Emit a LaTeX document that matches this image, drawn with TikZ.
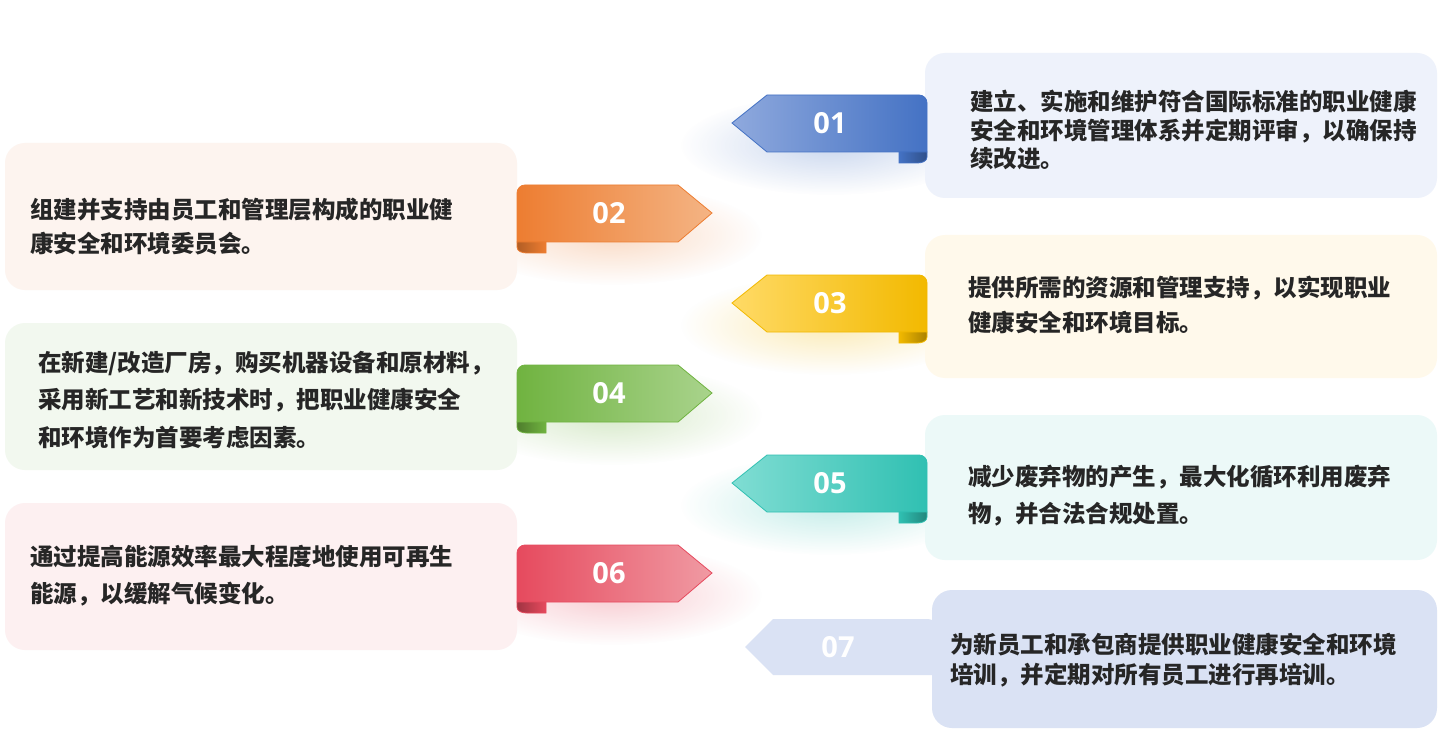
\documentclass[tikz,border=0pt]{standalone}
\usepackage{fontspec}
\usepackage{xcolor}
\usepackage{tikz}
\usetikzlibrary{positioning, fadings}
\newfontfamily\cjk{Noto Sans CJK SC}
\newfontfamily\numfont{Open Sans}
\definecolor{textgray}{RGB}{38,38,38}
\definecolor{blueD}{RGB}{68,114,196}
\definecolor{blueL}{RGB}{143,169,221}
\definecolor{blueBox}{RGB}{238,242,251}
\definecolor{orangeD}{RGB}{237,125,49}
\definecolor{orangeL}{RGB}{244,180,132}
\definecolor{orangeBox}{RGB}{253,244,239}
\definecolor{yellowD}{RGB}{242,185,0}
\definecolor{yellowL}{RGB}{255,218,102}
\definecolor{yellowBox}{RGB}{255,249,235}
\definecolor{greenD}{RGB}{112,179,64}
\definecolor{greenL}{RGB}{169,211,140}
\definecolor{greenBox}{RGB}{242,248,239}
\definecolor{tealD}{RGB}{48,192,178}
\definecolor{tealL}{RGB}{128,221,211}
\definecolor{tealBox}{RGB}{236,249,248}
\definecolor{redD}{RGB}{230,74,94}
\definecolor{redL}{RGB}{240,154,163}
\definecolor{redBox}{RGB}{253,240,241}
\definecolor{paleBlue}{RGB}{218,226,244}
\tikzfading[name=glowfade, inner color=transparent!30, outer color=transparent!100]

\begin{document}
\begin{tikzpicture}[
        x=1pt, y=-1pt,
        box/.style={rectangle, rounded corners=20pt, minimum width=512pt, inner sep=0pt},
        txt/.style={anchor=west, align=left, inner sep=0pt, text=textgray, font=\cjk\bfseries\fontsize{23.5}{#1}\selectfont},
        num/.style={text=white, inner sep=0pt, font=\numfont\bfseries\fontsize{29}{29}\selectfont},
        ribbon/.style={draw=#1, line width=0.8pt},
        glow/.style={fill=#1, fill opacity=0.4, path fading=glowfade}
    ]
    \useasboundingbox (0,0) rectangle (1439,743);
    \fill[white] (0,0) rectangle (1439,743);

    % 光晕
    \fill[glow=blueD] (830,145) ellipse [x radius=150, y radius=50];
    \fill[glow=orangeD] (612,235) ellipse [x radius=150, y radius=50];
    \fill[glow=yellowD] (830,325) ellipse [x radius=150, y radius=50];
    \fill[glow=greenD] (612,415) ellipse [x radius=150, y radius=50];
    \fill[glow=tealD] (830,505) ellipse [x radius=150, y radius=50];
    \fill[glow=redD] (612,595) ellipse [x radius=150, y radius=50];

    % 文本框
    \node[box, fill=blueBox, minimum height=145pt] (b01) at (1181,125.5) {};
    \node[box, fill=orangeBox, minimum height=147pt] (b02) at (261,216.5) {};
    \node[box, fill=yellowBox, minimum height=143pt] (b03) at (1181,306.5) {};
    \node[box, fill=greenBox, minimum height=147pt] (b04) at (261,396.5) {};
    \node[box, fill=tealBox, minimum height=145pt] (b05) at (1181,487.5) {};
    \node[box, fill=redBox, minimum height=147pt] (b06) at (261,576.5) {};

    % 07 标签
    \fill[paleBlue] (745,647) -- (773,619) [rounded corners=8pt] -- (936,619) [sharp corners] -- (936,675) -- (773,675) -- cycle;
    \node[box, fill=paleBlue, minimum width=505pt, minimum height=138pt] (b07) at (1184.5,659) {};

    % 丝带 01
    \draw[ribbon=blueD, left color=blueL, middle color=blueD, right color=blueD]
        (732,123) -- (767,95) [rounded corners=8pt] -- (927,95) [sharp corners] -- (927,152) -- (767,152) -- cycle;
    \draw[ribbon=blueD, left color=blueD, right color=blueD!70!black]
        (899,152) -- (899,163) -- (917,163) to[out=0, in=-90] (927,157) -- (927,152) -- cycle;
    % 丝带 02
    \draw[ribbon=orangeD, left color=orangeD, right color=orangeL]
        (678,185) -- (712,213) -- (678,242) -- (517,242) -- (517,200) [rounded corners=8pt] -- (517,185) [sharp corners] -- cycle;
    \draw[ribbon=orangeD, left color=orangeD!75!black, right color=orangeD]
        (546,242) -- (546,253) -- (527,253) to[out=180, in=-90] (517,247) -- (517,242) -- cycle;
    % 丝带 03
    \draw[ribbon=yellowD, left color=yellowL, middle color=yellowD, right color=yellowD]
        (732,303) -- (767,275) [rounded corners=8pt] -- (927,275) [sharp corners] -- (927,332) -- (767,332) -- cycle;
    \draw[ribbon=yellowD, left color=yellowD, right color=yellowD!70!black]
        (899,332) -- (899,343) -- (917,343) to[out=0, in=-90] (927,337) -- (927,332) -- cycle;
    % 丝带 04
    \draw[ribbon=greenD, left color=greenD, right color=greenL]
        (678,365) -- (712,393) -- (678,422) -- (517,422) -- (517,380) [rounded corners=8pt] -- (517,365) [sharp corners] -- cycle;
    \draw[ribbon=greenD, left color=greenD!70!black, right color=greenD]
        (546,422) -- (546,433) -- (527,433) to[out=180, in=-90] (517,427) -- (517,422) -- cycle;
    % 丝带 05
    \draw[ribbon=tealD, left color=tealL, middle color=tealD, right color=tealD]
        (732,483) -- (767,455) [rounded corners=8pt] -- (927,455) [sharp corners] -- (927,512) -- (767,512) -- cycle;
    \draw[ribbon=tealD, left color=tealD, right color=tealD!70!black]
        (899,512) -- (899,523) -- (917,523) to[out=0, in=-90] (927,517) -- (927,512) -- cycle;
    % 丝带 06
    \draw[ribbon=redD, left color=redD, right color=redL]
        (678,545) -- (712,573) -- (678,602) -- (517,602) -- (517,560) [rounded corners=8pt] -- (517,545) [sharp corners] -- cycle;
    \draw[ribbon=redD, left color=redD!70!black, right color=redD]
        (546,602) -- (546,613) -- (527,613) to[out=180, in=-90] (517,607) -- (517,602) -- cycle;

    % 编号
    \node[num] (n01) at (830,123) {01};
    \node[num] (n02) at (609,213) {02};
    \node[num] (n03) at (830,303) {03};
    \node[num] (n04) at (609,393) {04};
    \node[num] (n05) at (830,483) {05};
    \node[num] (n06) at (609,573) {06};
    \node[num] (n07) at (838,647) {07};

    % 内容
    \node[txt=28.5] (t01) at (970,130) {建立、实施和维护符合国际标准的职业健康\\安全和环境管理体系并定期评审，以确保持\\续改进。};
    \node[txt=34] (t02) at (30,227) {组建并支持由员工和管理层构成的职业健\\康安全和环境委员会。};
    \node[txt=35] (t03) at (968,305) {提供所需的资源和管理支持，以实现职业\\健康安全和环境目标。};
    \node[txt=37.5] (t04) at (38,400) {在新建/改造厂房，购买机器设备和原材料，\\采用新工艺和新技术时，把职业健康安全\\和环境作为首要考虑因素。};
    \node[txt=37] (t05) at (968,496) {减少废弃物的产生，最大化循环利用废弃\\物，并合法合规处置。};
    \node[txt=37] (t06) at (30,576) {通过提高能源效率最大程度地使用可再生\\能源，以缓解气候变化。};
    \node[txt=30] (t07) at (950,660) {为新员工和承包商提供职业健康安全和环境\\培训，并定期对所有员工进行再培训。};

\end{tikzpicture}
\end{document}
